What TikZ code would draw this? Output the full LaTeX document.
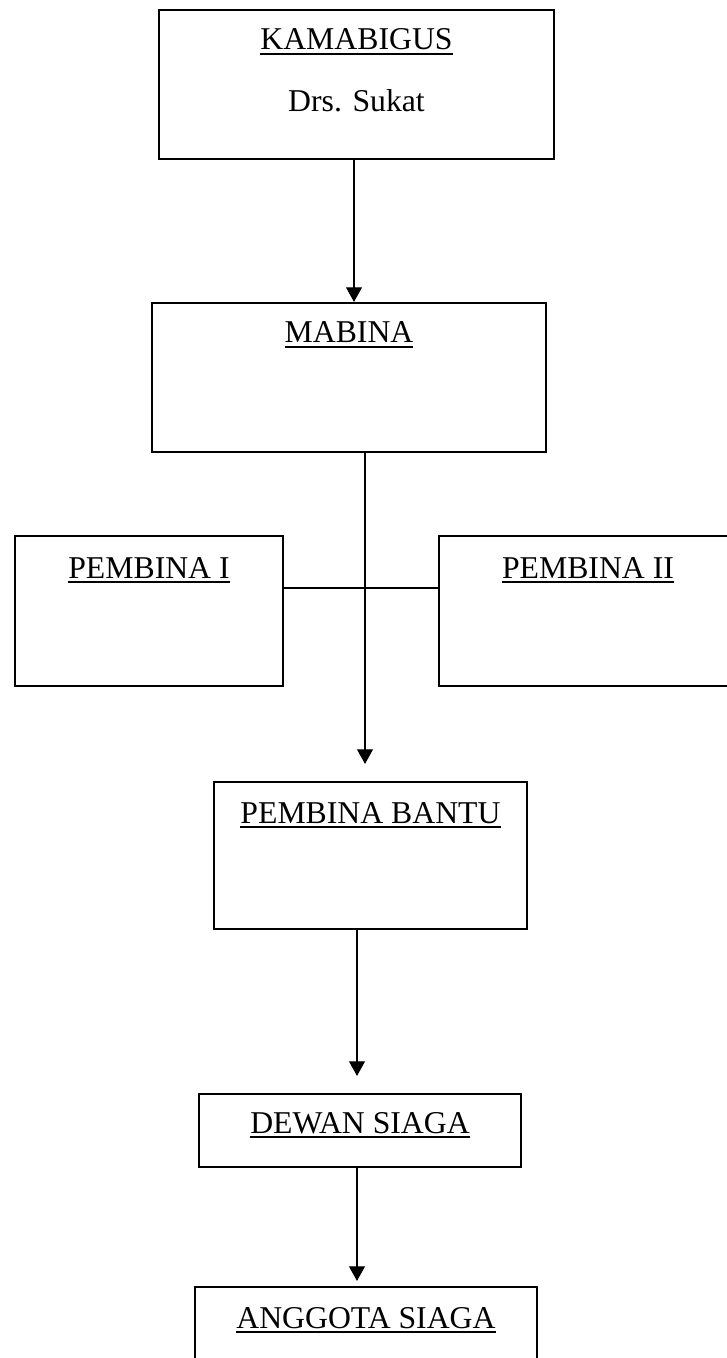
\documentclass[tikz,border=0pt]{standalone}
\usepackage{fontspec}
\setmainfont{Liberation Serif}
\usetikzlibrary{arrows.meta,calc}
\newcommand{\ulin}[1]{\setbox0\hbox{#1}\rlap{\rule[-3.6pt]{\wd0}{1.3pt}}\box0}
\tikzset{
  orgbox/.style={draw=black, line width=1.6pt, rectangle, inner sep=0pt, fill=white},
  lbl/.style={inner sep=0pt, anchor=base, font=\fontsize{23.8}{28}\selectfont},
  conn/.style={draw=black, line width=0.8pt},
  arr/.style={conn, -{Triangle[length=11pt, width=12pt]}}
}
\begin{document}
\begin{tikzpicture}[x=0.75pt, y=-0.75pt]
\useasboundingbox (0,0) rectangle (727,1358);
\clip (0,0) rectangle (727,1358);
\fill[white] (0,0) rectangle (727,1358);
% boxes
\node[orgbox, minimum width=395*0.75pt, minimum height=149*0.75pt] (kam) at (356.5,84.5) {};
\node[orgbox, minimum width=394*0.75pt, minimum height=149*0.75pt] (mab) at (349,377.5) {};
\node[orgbox, minimum width=268*0.75pt, minimum height=150*0.75pt] (p1) at (149,611) {};
\node[orgbox, minimum width=298*0.75pt, minimum height=150*0.75pt] (p2) at (588,611) {};
\node[orgbox, minimum width=313*0.75pt, minimum height=147*0.75pt] (pb) at (370.5,855.5) {};
\node[orgbox, minimum width=322*0.75pt, minimum height=73*0.75pt] (dew) at (360,1130.5) {};
\node[orgbox, minimum width=342*0.75pt, minimum height=133*0.75pt] (ang) at (366,1353.5) {};
% labels
\node[lbl] (tkam) at (356.5,50) {\ulin{KAMABIGUS}};
\node[lbl] (tdrs) at (356.5,112) {Drs. Sukat};
\node[lbl] (tmab) at (349,343) {\ulin{MABINA}};
\node[lbl] (tp1) at (149,578) {\ulin{PEMBINA I}};
\node[lbl] (tp2) at (588,578) {\ulin{PEMBINA II}};
\node[lbl] (tpb) at (370.5,823) {\ulin{PEMBINA BANTU}};
\node[lbl] (tdew) at (360,1133) {\ulin{DEWAN SIAGA}};
\node[lbl] (tang) at (366,1328) {\ulin{ANGGOTA SIAGA}};
% connector x positions
\coordinate (xa) at (354,0);
\coordinate (xb) at (365,0);
\coordinate (xc) at (357,0);
% connectors
\draw[arr] (kam.south -| xa) -- (mab.north -| xa);
\draw[conn] ([yshift=17.25pt]p1.east) -- ([yshift=17.25pt]p2.west);
\draw[arr, shorten >=12.75pt] (mab.south -| xb) -- (pb.north -| xb);
\draw[arr, shorten >=12.75pt] (pb.south -| xc) -- (dew.north -| xc);
\draw[arr, shorten >=3.75pt] (dew.south -| xc) -- (ang.north -| xc);
\end{tikzpicture}
\end{document}
